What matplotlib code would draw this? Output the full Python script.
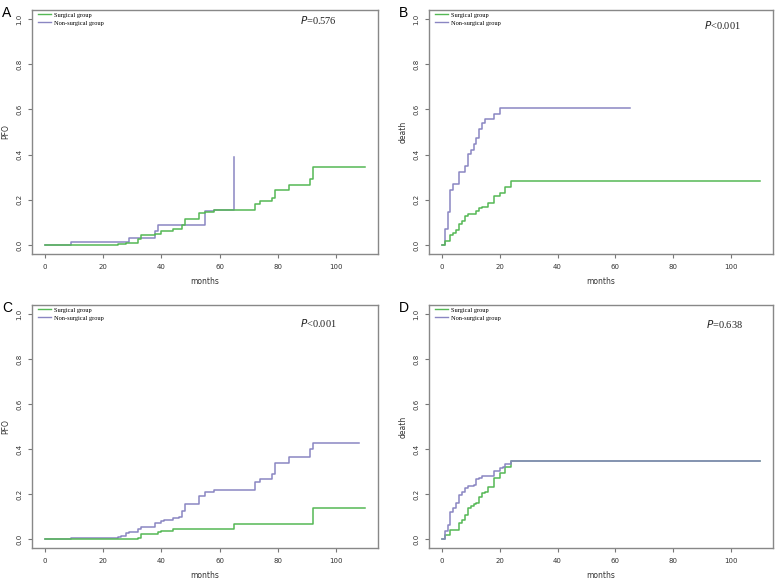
import matplotlib.pyplot as plt

# cumulative incidence curves, 4 panels

green = "#55b855"
purple = "#8a86c2"

# A - PFO
a_surg_t = [0, 25, 28, 32, 33, 38, 40, 44, 47, 48, 53, 55, 58, 72, 74, 78, 79, 84, 91, 92, 110]
a_surg_y = [0, 0.004, 0.01, 0.025, 0.043, 0.047, 0.06, 0.07, 0.09, 0.117, 0.14, 0.148, 0.154,
            0.18, 0.195, 0.21, 0.243, 0.264, 0.29, 0.345, 0.345]
a_non_t = [0, 9, 29, 38, 39, 55, 58, 65, 65]
a_non_y = [0, 0.015, 0.033, 0.06, 0.09, 0.15, 0.155, 0.155, 0.39]

# B - death
b_surg_t = [0, 1, 3, 4, 5, 6, 7, 8, 9, 12, 13, 14, 16, 18, 20, 22, 24, 110]
b_surg_y = [0, 0.018, 0.046, 0.052, 0.065, 0.092, 0.108, 0.127, 0.136, 0.151, 0.162, 0.169,
            0.184, 0.215, 0.229, 0.255, 0.281, 0.281]
b_non_t = [0, 1, 2, 3, 4, 6, 8, 9, 10, 11, 12, 13, 14, 15, 18, 20, 65]
b_non_y = [0, 0.07, 0.148, 0.244, 0.27, 0.324, 0.351, 0.403, 0.42, 0.447, 0.474, 0.514,
           0.54, 0.556, 0.58, 0.607, 0.607]

# C - PFO
c_surg_t = [0, 32, 33, 39, 40, 44, 65, 92, 110]
c_surg_y = [0, 0.005, 0.022, 0.03, 0.037, 0.046, 0.067, 0.14, 0.14]
c_non_t = [0, 9, 25, 26, 28, 29, 32, 33, 38, 40, 41, 44, 46, 47, 48, 53, 55, 58, 72, 74,
           78, 79, 84, 91, 92, 108]
c_non_y = [0, 0.005, 0.009, 0.015, 0.027, 0.031, 0.046, 0.053, 0.072, 0.082, 0.086, 0.094,
           0.1, 0.124, 0.157, 0.19, 0.21, 0.218, 0.253, 0.268, 0.288, 0.338, 0.363, 0.398,
           0.428, 0.428]

# D - death
d_surg_t = [0, 1, 3, 6, 7, 8, 9, 10, 11, 12, 13, 14, 15, 16, 18, 20, 22, 24, 110]
d_surg_y = [0, 0.018, 0.042, 0.072, 0.086, 0.106, 0.139, 0.146, 0.154, 0.158, 0.188, 0.203,
            0.209, 0.232, 0.273, 0.295, 0.322, 0.347, 0.347]
d_non_t = [0, 1, 2, 3, 4, 5, 6, 7, 8, 9, 11, 12, 13, 14, 18, 20, 21, 22, 24, 110]
d_non_y = [0, 0.035, 0.064, 0.12, 0.139, 0.158, 0.194, 0.21, 0.225, 0.235, 0.241, 0.265,
           0.273, 0.28, 0.303, 0.315, 0.32, 0.332, 0.347, 0.347]

letters = ["A", "B", "C", "D"]
ylabels = ["PFO", "death", "PFO", "death"]
pvalues = ["=0.576", "<0.001", "<0.001", "=0.638"]
legend_labels = ["Surgical group", "Non-surgical group"]
xticks = [0, 20, 40, 60, 80, 100]
yticks = [0.0, 0.2, 0.4, 0.6, 0.8, 1.0]

W, H = 775, 580
# axes boxes in pixels: left, top, right, bottom
boxes = [(32, 10, 378, 254), (429, 10, 773, 254), (32, 305, 378, 548), (429, 305, 773, 548)]
p_pos = [(0.775, 0.96), (0.80, 0.94), (0.775, 0.926), (0.805, 0.92)]

curves = [
    (a_surg_t, a_surg_y, a_non_t, a_non_y, False),
    (b_surg_t, b_surg_y, b_non_t, b_non_y, False),
    (c_surg_t, c_surg_y, c_non_t, c_non_y, False),
    (d_surg_t, d_surg_y, d_non_t, d_non_y, True),
]

fig = plt.figure(figsize=(W / 100, H / 100), dpi=100)

for i in range(4):
    l, t, r, b = boxes[i]
    ax = fig.add_axes([l / W, 1 - b / H, (r - l) / W, (b - t) / H])
    st, sy, nt, ny, non_on_top = curves[i]
    z1, z2 = (2, 3) if non_on_top else (3, 2)
    ax.step(st, sy, where="post", color=green, lw=1.1, zorder=z1, label=legend_labels[0])
    ax.step(nt, ny, where="post", color=purple, lw=1.1, zorder=z2, label=legend_labels[1])

    ax.set_xlim(-4.4, 114.4)
    ax.set_ylim(-0.04, 1.04)
    ax.set_xticks(xticks)
    ax.set_yticks(yticks)
    ax.set_yticklabels(["%.1f" % v for v in yticks], rotation=90, va="center")
    ax.tick_params(labelsize=5, colors="#777777", labelcolor="#333333", length=3, width=0.8, pad=4)
    for s in ax.spines.values():
        s.set_color("#888888")
        s.set_linewidth(1.0)

    ax.set_xlabel("months", fontsize=5.5, color="#333333", labelpad=5)
    ax.set_ylabel(ylabels[i], fontsize=5.5, color="#333333", labelpad=4)

    leg = ax.legend(loc="upper left", bbox_to_anchor=(0.005, 1.01), frameon=False,
                    prop={"family": "Liberation Serif", "size": 4.6}, handlelength=2.0,
                    handletextpad=0.5, labelspacing=0.4, borderaxespad=0.3)
    for ln in leg.get_lines():
        ln.set_linewidth(1.0)

    px, py = p_pos[i]
    ax.text(px, py, r"$\it{P}$" + pvalues[i], transform=ax.transAxes, fontsize=7.5,
            family="Liberation Serif", va="center", ha="left", color="#222222")

    fig.text((l - 30) / W, 1 - (t - 4) / H, letters[i], fontsize=10, va="top", ha="left",
             family="Liberation Sans")

fig.savefig("out.png", dpi=100)
